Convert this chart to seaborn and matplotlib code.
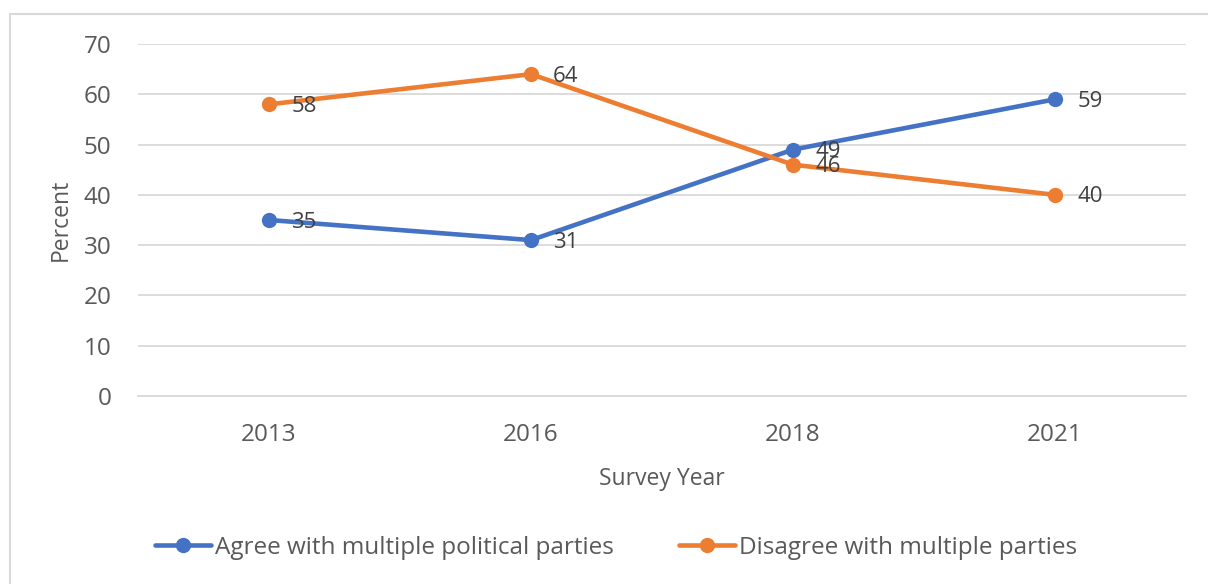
import matplotlib
matplotlib.use("Agg")
import matplotlib.pyplot as plt
import seaborn as sns
import pandas as pd

years = ["2013", "2016", "2018", "2021"]
agree = [35, 31, 49, 59]
disagree = [58, 64, 46, 40]
series_names = ["Agree with multiple political parties", "Disagree with multiple parties"]
colors = ["#4472C4", "#ED7D31"]

sns.set_theme(style="white")
plt.rcParams["font.family"] = ["Open Sans", "DejaVu Sans"]

df = pd.DataFrame({
    "Survey Year": years * 2,
    "Percent": agree + disagree,
    "Series": [series_names[0]] * len(years) + [series_names[1]] * len(years),
})

fig = plt.figure(figsize=(12.08, 5.84), dpi=100)
ax = fig.add_axes([138 / 1208, 1 - 396 / 584, (1186 - 138) / 1208, (396 - 44) / 584])

# chart border
fig.patches.append(plt.Rectangle((10 / 1208, -0.1), 1.2, 1 - 14 / 584 + 0.1,
                                 transform=fig.transFigure, fill=False,
                                 edgecolor="#D9D9D9", linewidth=1.5, zorder=0))

sns.lineplot(data=df, x="Survey Year", y="Percent", hue="Series",
             palette=colors, marker="o", markersize=11, markeredgewidth=0,
             linewidth=3.3, sort=False, ax=ax, legend=True)

ax.set_xlim(-0.5, len(years) - 0.5)
ax.set_ylim(0, 70)
ax.set_yticks(range(0, 71, 10))
ax.grid(axis="y", color="#D9D9D9", linewidth=1.3)
ax.set_axisbelow(True)
for s in ["top", "right", "left"]:
    ax.spines[s].set_visible(False)
ax.spines["bottom"].set_color("#D9D9D9")
ax.spines["bottom"].set_linewidth(1.3)
ax.tick_params(axis="both", length=0, labelsize=17.5, labelcolor="#595959")
ax.tick_params(axis="x", pad=19.5)
ax.tick_params(axis="y", pad=19)
ax.set_xlabel("Survey Year", fontsize=16.5, color="#595959", labelpad=14)
ax.set_ylabel("Percent", fontsize=16.5, color="#595959", labelpad=8)

for vals, c in zip([agree, disagree], colors):
    for i, v in enumerate(vals):
        ax.annotate(str(v), (i, v), xytext=(16, -1.5), textcoords="offset points",
                    ha="left", va="center", fontsize=16, color="#404040")

handles, labels = ax.get_legend_handles_labels()
ax.get_legend().remove()
fig.legend(handles, labels, loc="center", bbox_to_anchor=(616 / 1208, 1 - 548 / 584),
           ncol=2, frameon=False, fontsize=17.5, labelcolor="#595959",
           handlelength=2.3, handletextpad=0.17, columnspacing=2.7)

fig.savefig("out.png", dpi=100)
